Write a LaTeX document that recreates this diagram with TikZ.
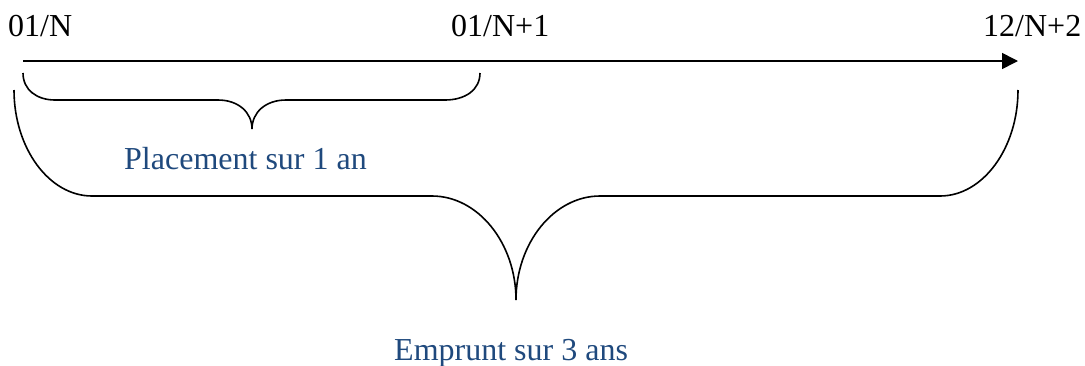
\documentclass[tikz,border=0pt]{standalone}
\usepackage{fontspec}
\setmainfont{Liberation Serif}
\usetikzlibrary{arrows.meta}
\definecolor{labelblue}{HTML}{1F497D}
\tikzset{
  datelabel/.style={anchor=base west, inner sep=0pt, font=\fontsize{32}{38}\selectfont},
  bracelabel/.style={anchor=base west, inner sep=0pt, text=labelblue, font=\fontsize{32}{38}\selectfont},
  timeline/.style={line width=1.6pt, -{Triangle[length=16pt,width=16pt]}},
  bracestroke/.style={line width=1.6pt}
}
\begin{document}
\begin{tikzpicture}[x=1pt,y=-1pt]
\useasboundingbox (0,0) rectangle (1085,365);
% labels
\node[datelabel] (d0) at (8,36) {01/N};
\node[datelabel] (d1) at (451,36) {01/N+1};
\node[datelabel] (d2) at (983,36) {12/N+2};
\node[bracelabel] (pl) at (124,169) {Placement sur 1 an};
\node[bracelabel] (em) at (394,360) {Emprunt sur 3 ans};
% timeline
\coordinate (ts) at (23,61);
\coordinate (te) at (1018,61);
\draw[timeline] (ts) -- (te);
% small brace
\coordinate (sa) at (23,73);
\coordinate (sm) at (252,129);
\coordinate (sb) at (480,73);
\draw[bracestroke] (sa) .. controls (23,90) and (37,100) .. (55,100) -- (218,100)
  .. controls (238,100) and (252,112) .. (sm)
  .. controls (252,112) and (266,100) .. (286,100) -- (445,100)
  .. controls (465,100) and (480,90) .. (sb);
% big brace
\coordinate (ba) at (14,90);
\coordinate (bm) at (516,300);
\coordinate (bb) at (1018,90);
\draw[bracestroke] (ba) .. controls (14,148) and (49,196) .. (92,196) -- (432,196)
  .. controls (478,196) and (516,243) .. (bm)
  .. controls (516,243) and (554,196) .. (600,196) -- (940,196)
  .. controls (983,196) and (1018,148) .. (bb);
\end{tikzpicture}
\end{document}
